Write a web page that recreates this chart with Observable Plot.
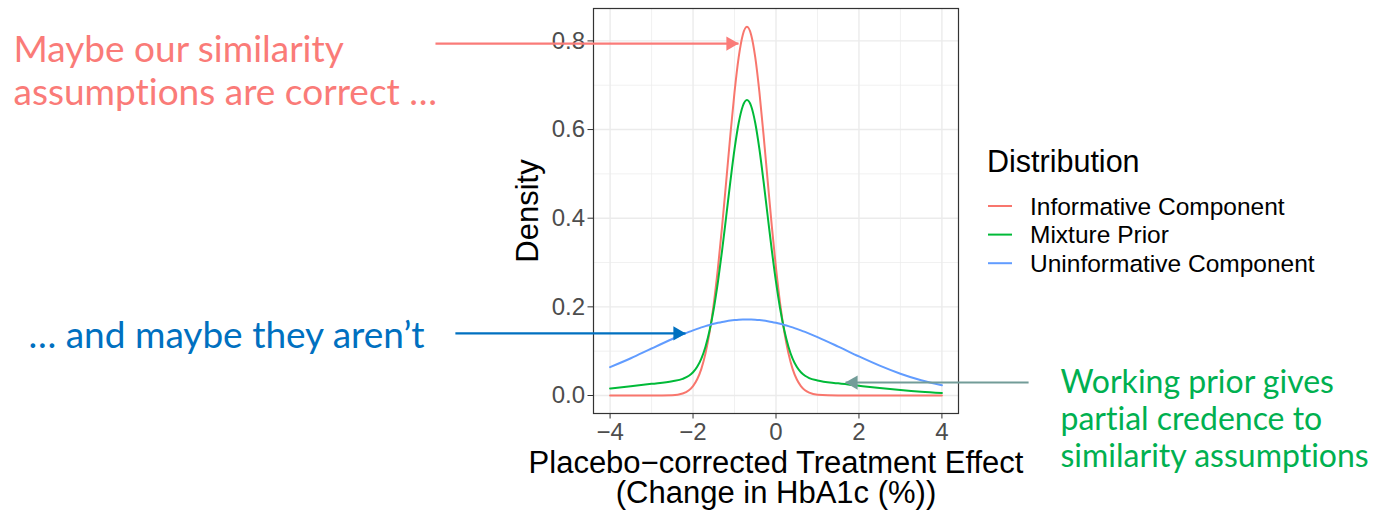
<!DOCTYPE html>
<html><head><meta charset="utf-8">
<script src="https://cdn.jsdelivr.net/npm/d3@7"></script>
<script src="https://cdn.jsdelivr.net/npm/@observablehq/plot@0.6"></script>
<style>
html,body{margin:0;padding:0;background:#fff;}
#chart{position:relative;width:1377px;height:512px;overflow:hidden;}
#chart svg{display:block;}
#chart text{font-variant-ligatures:none;}
g[aria-label="x-axis tick"], g[aria-label="y-axis tick"]{stroke:#333333;}
g[aria-label="x-axis tick label"], g[aria-label="y-axis tick label"]{fill:#4D4D4D;}
</style></head><body><div id="chart"></div>
<script>
// ---- data ----
const effect = [-4,-3.5,-3,-2.5,-2.25,-2.1,-2,-1.9,-1.8,-1.7,-1.6,-1.5,-1.4,-1.3,-1.2,-1.1,-1,-0.9,-0.8,-0.7,-0.6,-0.5,-0.4,-0.3,-0.2,-0.1,0,0.1,0.2,0.3,0.4,0.5,0.6,0.7,0.8,1,1.5,2,2.5,3,3.5,4];
const informative = [0,0,0,0.0007,0.0045,0.0118,0.0213,0.0366,0.0602,0.0950,0.1435,0.2075,0.2873,0.3810,0.4836,0.5880,0.6844,0.7629,0.8141,0.8320,0.8141,0.7629,0.6844,0.5880,0.4836,0.3810,0.2873,0.2075,0.1435,0.0950,0.0602,0.0366,0.0213,0.0118,0.0063,0.0016,0,0,0,0,0,0];
const mixture = [0.0158,0.0208,0.0263,0.0323,0.0376,0.0445,0.0525,0.0648,0.0833,0.1102,0.1472,0.1958,0.2563,0.3270,0.4044,0.4830,0.5556,0.6147,0.6532,0.6666,0.6532,0.6147,0.5556,0.4830,0.4044,0.3270,0.2563,0.1958,0.1472,0.1102,0.0833,0.0648,0.0525,0.0445,0.0394,0.0339,0.0274,0.0219,0.0167,0.0122,0.0085,0.0057];
const uninformative = [0.0640,0.0840,0.1060,0.1275,0.1378,0.1434,0.1470,0.1504,0.1536,0.1565,0.1592,0.1617,0.1640,0.1660,0.1676,0.1690,0.1701,0.1709,0.1713,0.1715,0.1713,0.1709,0.1701,0.1690,0.1676,0.1660,0.1640,0.1617,0.1592,0.1565,0.1536,0.1504,0.1470,0.1434,0.1397,0.1318,0.1104,0.0882,0.0674,0.0492,0.0343,0.0230];
const seriesNames = ["Informative Component","Mixture Prior","Uninformative Component"];
const seriesColors = ["#F8766D","#00BA38","#619CFF"];
const xTicks = [-4,-2,0,2,4];
const xMinor = [-3,-1,1,3];
const yTicks = [0,0.2,0.4,0.6,0.8];
const yMinor = [0.1,0.3,0.5,0.7];
const legendTitle = "Distribution";
const xTitle = "Placebo\u2212corrected Treatment Effect\n(Change in HbA1c (%))";
const yTitle = "Density";
// annotations: text and arrows (arrow ends in data units)
const noteRed = "Maybe our similarity\nassumptions are correct \u2026";
const noteBlue = "\u2026 and maybe they aren\u2019t";
const noteGreen = "Working prior gives\npartial credence to\nsimilarity assumptions";
const arrows = [
  {x1:-8.21, x2:-0.904, y:0.794, color:"#FA7B78", dir:1},
  {x1:-7.73, x2:-2.182, y:0.140, color:"#0070C0", dir:1},
  {x1:6.09, x2:1.676, y:0.0293, color:"#729C98", dir:-1}
];

// ---- build table ----
const rows = [];
[informative, mixture, uninformative].forEach((vals, k) => {
  vals.forEach((v, i) => rows.push({x: effect[i], density: v, dist: seriesNames[k]}));
});

const lato = "Lato, 'Open Sans', sans-serif";
const sans = "'Liberation Sans', Arial, Helvetica, sans-serif";

const arrowMarks = arrows.flatMap(a => [
  Plot.link([a], {x1:"x1", x2:"x2", y1:"y", y2:"y", stroke:a.color, strokeWidth:2.2}),
  Plot.dot([a], {x:"x2", y:"y", symbol:"triangle", r:5.3, rotate: a.dir > 0 ? 90 : -90, fill:a.color, stroke:"none", dx: -a.dir*8})
]);

const plot = Plot.plot({
  width:1377, height:512,
  marginLeft:593, marginRight:419, marginTop:8, marginBottom:99,
  style:{fontFamily:sans, fontSize:"24px", background:"#fff", overflow:"visible", color:"#000"},
  x:{domain:[-4.4,4.4]},
  y:{domain:[-0.0406,0.8731]},
  color:{domain:seriesNames, range:seriesColors},
  marks:[
    Plot.ruleX(xMinor, {stroke:"#EBEBEB", strokeWidth:0.7}),
    Plot.ruleY(yMinor, {stroke:"#EBEBEB", strokeWidth:0.7}),
    Plot.ruleX(xTicks, {stroke:"#EBEBEB", strokeWidth:1.4}),
    Plot.ruleY(yTicks, {stroke:"#EBEBEB", strokeWidth:1.4}),
    Plot.line(rows, {x:"x", y:"density", stroke:"dist", z:"dist", strokeWidth:2, curve:"monotone-x"}),
    Plot.frame({stroke:"#333333", strokeWidth:1.2}),
    Plot.axisX({ticks:xTicks, tickSize:5.5, tickPadding:4, label:null, fontSize:24}),
    Plot.axisY({ticks:yTicks, tickSize:5.5, tickPadding:3, label:null, tickFormat:d3.format(".1f"), fontSize:24}),
    Plot.text([xTitle], {text:d=>d, frameAnchor:"bottom", dy:89, textAnchor:"middle", lineAnchor:"bottom", lineHeight:0.96, fontSize:31, fontFamily:sans, fill:"#000"}),
    Plot.text([yTitle], {text:d=>d, frameAnchor:"left", dx:-56, rotate:-90, textAnchor:"middle", lineAnchor:"bottom", fontSize:31, fontFamily:sans, fill:"#000"}),
    ...arrowMarks,
    Plot.text([noteRed], {text:d=>d, frameAnchor:"top-left", dx:13-593, dy:104-8, textAnchor:"start", lineAnchor:"bottom", lineHeight:1.16, fontSize:37, fontFamily:lato, fill:"#FA7B78"}),
    Plot.text([noteBlue], {text:d=>d, frameAnchor:"top-left", dx:28-593, dy:347-8, textAnchor:"start", lineAnchor:"bottom", fontSize:37, fontFamily:lato, fill:"#0070C0"}),
    Plot.text([noteGreen], {text:d=>d, frameAnchor:"top-left", dx:1060-593, dy:466-8, textAnchor:"start", lineAnchor:"bottom", lineHeight:1.156, fontSize:32, fontFamily:lato, fill:"#00B050"})
  ]
});

// ---- legend ----
const lg = d3.select(plot).append("g").attr("font-family", sans).attr("fill", "#000").attr("text-anchor", "start");
lg.append("text").attr("x", 987).attr("y", 172).attr("font-size", 30.5).text(legendTitle);
seriesNames.forEach((s, i) => {
  const cy = 206 + i * 28.6;
  lg.append("line").attr("x1", 988).attr("x2", 1012).attr("y1", cy).attr("y2", cy)
    .attr("stroke", seriesColors[i]).attr("stroke-width", 2);
  lg.append("text").attr("x", 1030).attr("y", cy).attr("dy", "0.36em").attr("font-size", 24.5).text(s);
});

document.getElementById("chart").appendChild(plot);
</script></body></html>
